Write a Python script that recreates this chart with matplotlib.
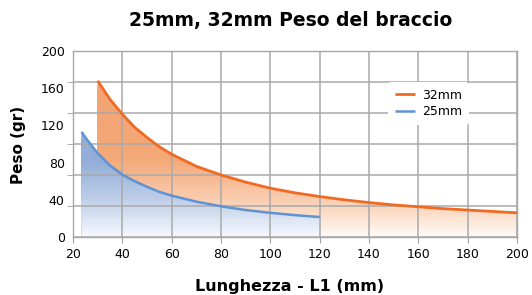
import numpy as np
import matplotlib
matplotlib.use("Agg")
import matplotlib.pyplot as plt
from matplotlib.colors import LinearSegmentedColormap

# Data
x32 = [30, 35, 40, 45, 50, 55, 60, 70, 80, 90, 100, 110, 120, 130, 140, 150, 160, 170, 180, 190, 200]
y32 = [168, 148, 132, 118, 107, 97, 89, 76, 66.7, 59, 52.5, 47.5, 43.5, 40, 37, 34.5, 32.5, 30.5, 29, 27.5, 26]
x25 = [23.5, 25, 30, 35, 40, 45, 50, 55, 60, 70, 80, 90, 100, 110, 120]
y25 = [113, 107, 90, 77, 67, 60, 54, 48.5, 44.5, 38, 33, 29, 26, 23.5, 21.5]
labels = ["32mm", "25mm"]
xticks = list(range(20, 201, 20))
yticks = list(range(0, 201, 40))
ygrid = list(np.linspace(0, 200, 7))

c32 = "#f26a22"
c25 = "#5f93d3"

fig = plt.figure(figsize=(5.32, 2.95), dpi=100)
ax = fig.add_axes([0.1372, 0.1966, 0.8346, 0.6305])
ax.set_xlim(20, 200)
ax.set_ylim(0, 200)

def grad_fill(xs, ys, stops, z, nb=100):
    cmap = LinearSegmentedColormap.from_list("g", stops)
    xs = np.asarray(xs, float)
    ys = np.asarray(ys, float)
    edges = np.linspace(0, 200, nb + 1)
    for lo, hi in zip(edges[:-1][::-1], edges[1:][::-1]):
        if lo >= ys.max():
            continue
        col = cmap((lo + hi) / 2 / 200)
        ax.fill_between(xs, 0, np.minimum(ys, hi), facecolor=col, edgecolor="none",
                        lw=0, zorder=z)

grad_fill(x32, y32, [(0, "#fefaf6"), (0.2, "#f9cdb0"), (0.42, "#f3a878"), (1, "#f2a070")], 2)
grad_fill(x25, y25, [(0, "#f5f7fc"), (0.2, "#bfcfe9"), (0.4, "#93afd9"), (1, "#8eaad6")], 3)

for xv in xticks:
    ax.plot([xv, xv], [0, 200], color="#a9a9a9", lw=1.1, zorder=4)
for yv in ygrid:
    ax.plot([20, 200], [yv, yv], color="#a9a9a9", lw=1.1, zorder=4)

ax.plot(x32, y32, color=c32, lw=2.0, zorder=5, label=labels[0], solid_capstyle="butt")
ax.plot(x25, y25, color=c25, lw=1.8, zorder=5, label=labels[1], solid_capstyle="butt")

ax.set_xticks(xticks)
ax.set_yticks(yticks)
ax.set_yticks(ygrid, minor=True)
ax.tick_params(axis="y", which="major", length=0, labelsize=9, pad=6)
ax.tick_params(axis="y", which="minor", length=4, color="#a0a0a0")
ax.tick_params(axis="x", which="major", length=4, color="#a0a0a0", labelsize=9, pad=4)
for s in ax.spines.values():
    s.set_color("#a8a8a8")
    s.set_linewidth(1)

leg = ax.legend(loc="upper right", bbox_to_anchor=(0.905, 0.865), frameon=True, fontsize=9,
                handlelength=1.6, handletextpad=0.6, borderpad=0.5, labelspacing=0.3)
leg.get_frame().set_edgecolor("none")
leg.get_frame().set_facecolor("white")
leg.get_frame().set_alpha(1)
leg.set_zorder(10)

fig.text(0.547, 0.93, "25mm, 32mm Peso del braccio", ha="center", va="center",
         fontsize=13.5, fontweight="bold")
fig.text(0.545, 0.03, "Lunghezza - L1 (mm)", ha="center", va="center",
         fontsize=11.5, fontweight="bold")
fig.text(0.034, 0.51, "Peso (gr)", ha="center", va="center", rotation=90,
         fontsize=11, fontweight="bold")

fig.savefig("out.png", dpi=100)
